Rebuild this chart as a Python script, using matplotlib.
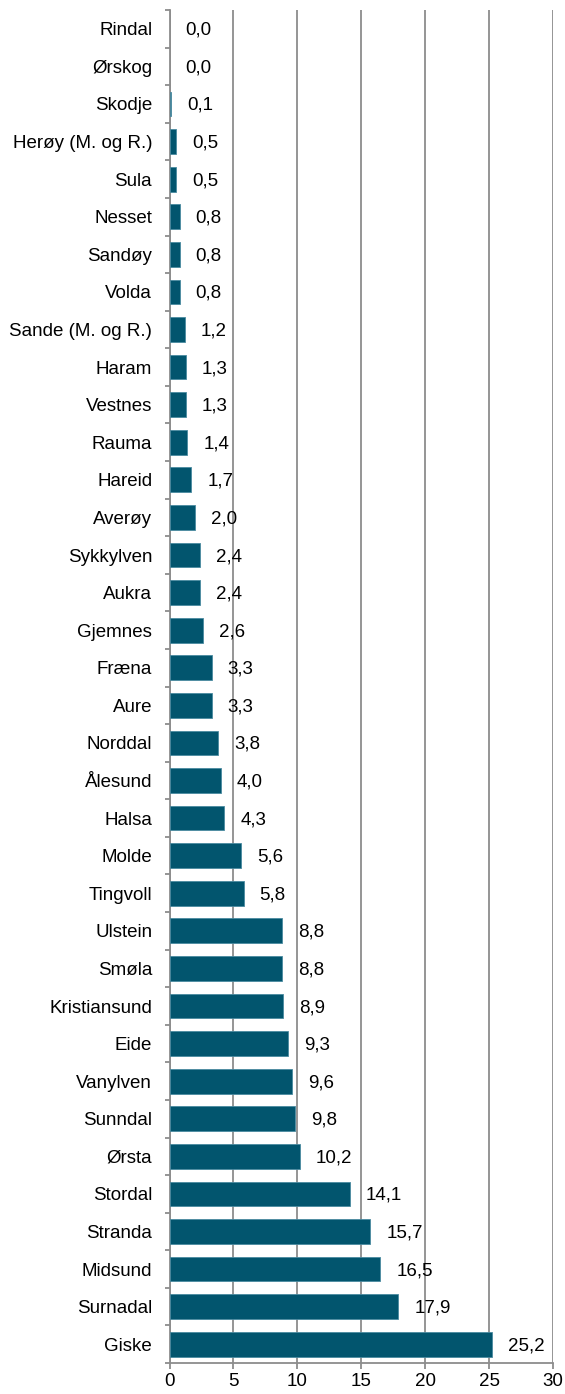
import matplotlib
matplotlib.use('Agg')
import matplotlib.pyplot as plt
import numpy as np

# Data, top to bottom as shown in the chart
kommuner = ['Rindal', 'Ørskog', 'Skodje', 'Herøy (M. og R.)', 'Sula', 'Nesset',
            'Sandøy', 'Volda', 'Sande (M. og R.)', 'Haram', 'Vestnes', 'Rauma',
            'Hareid', 'Averøy', 'Sykkylven', 'Aukra', 'Gjemnes', 'Fræna', 'Aure',
            'Norddal', 'Ålesund', 'Halsa', 'Molde', 'Tingvoll', 'Ulstein', 'Smøla',
            'Kristiansund', 'Eide', 'Vanylven', 'Sunndal', 'Ørsta', 'Stordal',
            'Stranda', 'Midsund', 'Surnadal', 'Giske']
verdier = [0.0, 0.0, 0.1, 0.5, 0.5, 0.8, 0.8, 0.8, 1.2, 1.3, 1.3, 1.4, 1.7, 2.0,
           2.4, 2.4, 2.6, 3.3, 3.3, 3.8, 4.0, 4.3, 5.6, 5.8, 8.8, 8.8, 8.9, 9.3,
           9.6, 9.8, 10.2, 14.1, 15.7, 16.5, 17.9, 25.2]
x_ticks = [0, 5, 10, 15, 20, 25, 30]

plt.rcParams['font.family'] = ['Liberation Sans', 'DejaVu Sans']

fig = plt.figure(figsize=(5.65, 13.94), dpi=100)
ax = fig.add_axes([0.300, 0.0222, 0.679, 0.9706])

n = len(kommuner)
y = np.arange(n)
grey = '#8c8c8c'

# no outline for empty bars
kant = [0.6 if v > 0 else 0 for v in verdier]
ax.barh(y, verdier, height=0.66, color='#02556e', edgecolor='#4a8aa0',
        linewidth=kant, zorder=3)

for yi, v in zip(y, verdier):
    ax.annotate(f'{v:.1f}'.replace('.', ','), xy=(v, yi), xytext=(16, -1.5),
                textcoords='offset pixels', ha='left', va='center',
                fontsize=13.5, color='black', zorder=4)

ax.set_xlim(0, 30)
ax.set_ylim(n - 0.5, -0.5)
ax.set_xticks(x_ticks)
ax.set_xticklabels([str(t) for t in x_ticks])
ax.set_yticks(y)
ax.set_yticklabels(kommuner)
ax.set_yticks(np.arange(n + 1) - 0.5, minor=True)

ax.xaxis.grid(True, color=grey, linewidth=1.3, zorder=0)
ax.set_axisbelow(True)

for side in ['top', 'right']:
    ax.spines[side].set_visible(False)
for side in ['left', 'bottom']:
    ax.spines[side].set_color(grey)
    ax.spines[side].set_linewidth(1.3)

ax.tick_params(axis='y', which='major', length=0, pad=12.5, labelsize=13.5)
ax.tick_params(axis='y', which='minor', length=3.6, color=grey, width=1.3)
ax.tick_params(axis='x', length=4.3, color=grey, width=1.3, pad=3, labelsize=13.5)

fig.savefig('out.png', dpi=100)
